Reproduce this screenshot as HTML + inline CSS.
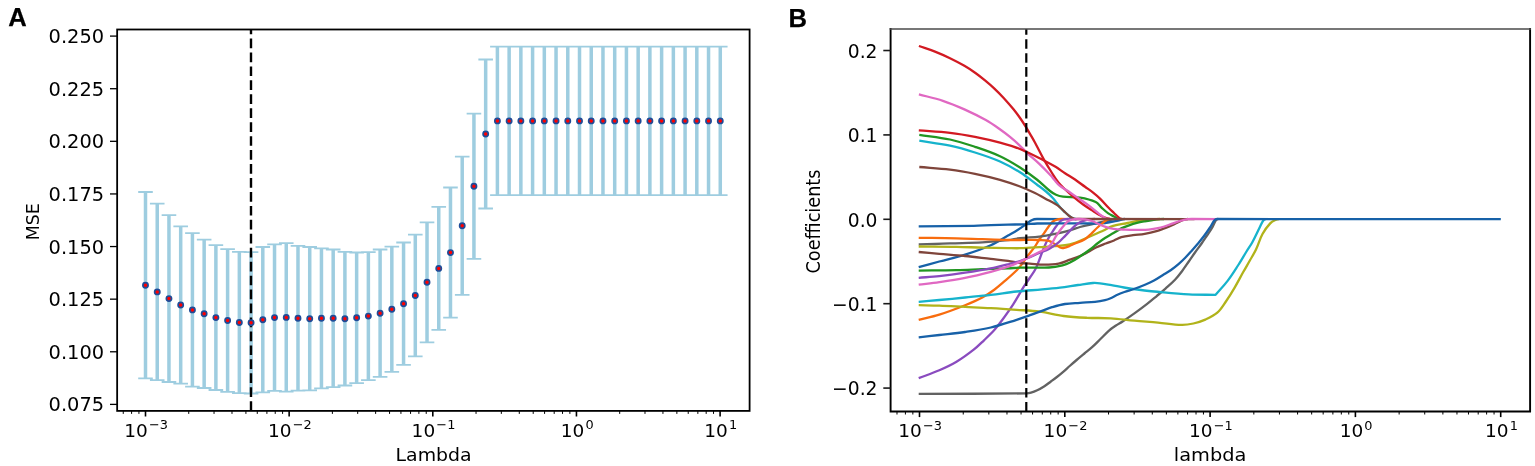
<!DOCTYPE html><html><head><meta charset="utf-8"><style>html,body{margin:0;padding:0;background:#fff;}svg{display:block;filter:blur(0.35px)}html,body{overflow:hidden;width:1535px;height:466px}</style></head><body>
<svg width="1535" height="466" viewBox="0 0 1535 466">
<rect width="100%" height="100%" fill="#fff"/>
<text x="8.2" y="26.1" font-family="Liberation Sans, Arial, sans-serif" font-weight="bold" font-size="25.6" stroke="#000" stroke-width="0.25">A</text>
<path d="M145.50 192.00V378.40M157.23 203.70V380.10M168.96 215.20V382.00M180.69 226.40V383.60M192.42 233.20V386.60M204.15 239.60V388.00M215.88 245.20V390.00M227.61 249.20V391.80M239.34 251.80V393.20M251.07 252.10V393.50M262.80 247.00V392.40M274.53 244.40V390.80M286.26 243.20V391.60M297.99 245.90V390.70M309.72 247.00V390.40M321.45 248.30V388.30M333.18 249.50V387.10M344.91 251.90V385.50M356.64 252.50V383.10M368.37 252.10V380.10M380.10 249.50V376.90M391.83 246.60V371.80M403.56 242.50V364.90M415.29 234.70V356.30M427.02 222.30V342.30M438.75 206.90V329.90M450.48 187.50V317.70M462.21 156.70V294.90M473.94 113.70V258.90M485.67 59.50V208.50M497.40 46.70V195.10M509.13 46.70V195.10M520.86 46.70V195.10M532.59 46.70V195.10M544.32 46.70V195.10M556.05 46.70V195.10M567.78 46.70V195.10M579.51 46.70V195.10M591.24 46.70V195.10M602.97 46.70V195.10M614.70 46.70V195.10M626.43 46.70V195.10M638.16 46.70V195.10M649.89 46.70V195.10M661.62 46.70V195.10M673.35 46.70V195.10M685.08 46.70V195.10M696.81 46.70V195.10M708.54 46.70V195.10M720.27 46.70V195.10" stroke="#9ecde0" stroke-width="3.5" fill="none"/>
<path d="M138.20 192.00H152.80M138.20 378.40H152.80M149.93 203.70H164.53M149.93 380.10H164.53M161.66 215.20H176.26M161.66 382.00H176.26M173.39 226.40H187.99M173.39 383.60H187.99M185.12 233.20H199.72M185.12 386.60H199.72M196.85 239.60H211.45M196.85 388.00H211.45M208.58 245.20H223.18M208.58 390.00H223.18M220.31 249.20H234.91M220.31 391.80H234.91M232.04 251.80H246.64M232.04 393.20H246.64M243.77 252.10H258.37M243.77 393.50H258.37M255.50 247.00H270.10M255.50 392.40H270.10M267.23 244.40H281.83M267.23 390.80H281.83M278.96 243.20H293.56M278.96 391.60H293.56M290.69 245.90H305.29M290.69 390.70H305.29M302.42 247.00H317.02M302.42 390.40H317.02M314.15 248.30H328.75M314.15 388.30H328.75M325.88 249.50H340.48M325.88 387.10H340.48M337.61 251.90H352.21M337.61 385.50H352.21M349.34 252.50H363.94M349.34 383.10H363.94M361.07 252.10H375.67M361.07 380.10H375.67M372.80 249.50H387.40M372.80 376.90H387.40M384.53 246.60H399.13M384.53 371.80H399.13M396.26 242.50H410.86M396.26 364.90H410.86M407.99 234.70H422.59M407.99 356.30H422.59M419.72 222.30H434.32M419.72 342.30H434.32M431.45 206.90H446.05M431.45 329.90H446.05M443.18 187.50H457.78M443.18 317.70H457.78M454.91 156.70H469.51M454.91 294.90H469.51M466.64 113.70H481.24M466.64 258.90H481.24M478.37 59.50H492.97M478.37 208.50H492.97M490.10 46.70H504.70M490.10 195.10H504.70M501.83 46.70H516.43M501.83 195.10H516.43M513.56 46.70H528.16M513.56 195.10H528.16M525.29 46.70H539.89M525.29 195.10H539.89M537.02 46.70H551.62M537.02 195.10H551.62M548.75 46.70H563.35M548.75 195.10H563.35M560.48 46.70H575.08M560.48 195.10H575.08M572.21 46.70H586.81M572.21 195.10H586.81M583.94 46.70H598.54M583.94 195.10H598.54M595.67 46.70H610.27M595.67 195.10H610.27M607.40 46.70H622.00M607.40 195.10H622.00M619.13 46.70H633.73M619.13 195.10H633.73M630.86 46.70H645.46M630.86 195.10H645.46M642.59 46.70H657.19M642.59 195.10H657.19M654.32 46.70H668.92M654.32 195.10H668.92M666.05 46.70H680.65M666.05 195.10H680.65M677.78 46.70H692.38M677.78 195.10H692.38M689.51 46.70H704.11M689.51 195.10H704.11M701.24 46.70H715.84M701.24 195.10H715.84M712.97 46.70H727.57M712.97 195.10H727.57" stroke="#9ecde0" stroke-width="1.8" fill="none"/>
<line x1="251.0" y1="410.9" x2="251.0" y2="29.5" stroke="#000" stroke-width="2.4" stroke-dasharray="9.7 4.25"/>
<circle cx="145.50" cy="285.20" r="2.6" fill="#ff0000" stroke="#1f4c98" stroke-width="1.7"/>
<circle cx="157.23" cy="291.90" r="2.6" fill="#ff0000" stroke="#1f4c98" stroke-width="1.7"/>
<circle cx="168.96" cy="298.60" r="2.6" fill="#ff0000" stroke="#1f4c98" stroke-width="1.7"/>
<circle cx="180.69" cy="305.00" r="2.6" fill="#ff0000" stroke="#1f4c98" stroke-width="1.7"/>
<circle cx="192.42" cy="309.90" r="2.6" fill="#ff0000" stroke="#1f4c98" stroke-width="1.7"/>
<circle cx="204.15" cy="313.80" r="2.6" fill="#ff0000" stroke="#1f4c98" stroke-width="1.7"/>
<circle cx="215.88" cy="317.60" r="2.6" fill="#ff0000" stroke="#1f4c98" stroke-width="1.7"/>
<circle cx="227.61" cy="320.50" r="2.6" fill="#ff0000" stroke="#1f4c98" stroke-width="1.7"/>
<circle cx="239.34" cy="322.50" r="2.6" fill="#ff0000" stroke="#1f4c98" stroke-width="1.7"/>
<circle cx="251.07" cy="322.80" r="2.6" fill="#ff0000" stroke="#1f4c98" stroke-width="1.7"/>
<circle cx="262.80" cy="319.70" r="2.6" fill="#ff0000" stroke="#1f4c98" stroke-width="1.7"/>
<circle cx="274.53" cy="317.60" r="2.6" fill="#ff0000" stroke="#1f4c98" stroke-width="1.7"/>
<circle cx="286.26" cy="317.40" r="2.6" fill="#ff0000" stroke="#1f4c98" stroke-width="1.7"/>
<circle cx="297.99" cy="318.30" r="2.6" fill="#ff0000" stroke="#1f4c98" stroke-width="1.7"/>
<circle cx="309.72" cy="318.70" r="2.6" fill="#ff0000" stroke="#1f4c98" stroke-width="1.7"/>
<circle cx="321.45" cy="318.30" r="2.6" fill="#ff0000" stroke="#1f4c98" stroke-width="1.7"/>
<circle cx="333.18" cy="318.30" r="2.6" fill="#ff0000" stroke="#1f4c98" stroke-width="1.7"/>
<circle cx="344.91" cy="318.70" r="2.6" fill="#ff0000" stroke="#1f4c98" stroke-width="1.7"/>
<circle cx="356.64" cy="317.80" r="2.6" fill="#ff0000" stroke="#1f4c98" stroke-width="1.7"/>
<circle cx="368.37" cy="316.10" r="2.6" fill="#ff0000" stroke="#1f4c98" stroke-width="1.7"/>
<circle cx="380.10" cy="313.20" r="2.6" fill="#ff0000" stroke="#1f4c98" stroke-width="1.7"/>
<circle cx="391.83" cy="309.20" r="2.6" fill="#ff0000" stroke="#1f4c98" stroke-width="1.7"/>
<circle cx="403.56" cy="303.70" r="2.6" fill="#ff0000" stroke="#1f4c98" stroke-width="1.7"/>
<circle cx="415.29" cy="295.50" r="2.6" fill="#ff0000" stroke="#1f4c98" stroke-width="1.7"/>
<circle cx="427.02" cy="282.30" r="2.6" fill="#ff0000" stroke="#1f4c98" stroke-width="1.7"/>
<circle cx="438.75" cy="268.40" r="2.6" fill="#ff0000" stroke="#1f4c98" stroke-width="1.7"/>
<circle cx="450.48" cy="252.60" r="2.6" fill="#ff0000" stroke="#1f4c98" stroke-width="1.7"/>
<circle cx="462.21" cy="225.80" r="2.6" fill="#ff0000" stroke="#1f4c98" stroke-width="1.7"/>
<circle cx="473.94" cy="186.30" r="2.6" fill="#ff0000" stroke="#1f4c98" stroke-width="1.7"/>
<circle cx="485.67" cy="134.00" r="2.6" fill="#ff0000" stroke="#1f4c98" stroke-width="1.7"/>
<circle cx="497.40" cy="120.90" r="2.6" fill="#ff0000" stroke="#1f4c98" stroke-width="1.7"/>
<circle cx="509.13" cy="120.90" r="2.6" fill="#ff0000" stroke="#1f4c98" stroke-width="1.7"/>
<circle cx="520.86" cy="120.90" r="2.6" fill="#ff0000" stroke="#1f4c98" stroke-width="1.7"/>
<circle cx="532.59" cy="120.90" r="2.6" fill="#ff0000" stroke="#1f4c98" stroke-width="1.7"/>
<circle cx="544.32" cy="120.90" r="2.6" fill="#ff0000" stroke="#1f4c98" stroke-width="1.7"/>
<circle cx="556.05" cy="120.90" r="2.6" fill="#ff0000" stroke="#1f4c98" stroke-width="1.7"/>
<circle cx="567.78" cy="120.90" r="2.6" fill="#ff0000" stroke="#1f4c98" stroke-width="1.7"/>
<circle cx="579.51" cy="120.90" r="2.6" fill="#ff0000" stroke="#1f4c98" stroke-width="1.7"/>
<circle cx="591.24" cy="120.90" r="2.6" fill="#ff0000" stroke="#1f4c98" stroke-width="1.7"/>
<circle cx="602.97" cy="120.90" r="2.6" fill="#ff0000" stroke="#1f4c98" stroke-width="1.7"/>
<circle cx="614.70" cy="120.90" r="2.6" fill="#ff0000" stroke="#1f4c98" stroke-width="1.7"/>
<circle cx="626.43" cy="120.90" r="2.6" fill="#ff0000" stroke="#1f4c98" stroke-width="1.7"/>
<circle cx="638.16" cy="120.90" r="2.6" fill="#ff0000" stroke="#1f4c98" stroke-width="1.7"/>
<circle cx="649.89" cy="120.90" r="2.6" fill="#ff0000" stroke="#1f4c98" stroke-width="1.7"/>
<circle cx="661.62" cy="120.90" r="2.6" fill="#ff0000" stroke="#1f4c98" stroke-width="1.7"/>
<circle cx="673.35" cy="120.90" r="2.6" fill="#ff0000" stroke="#1f4c98" stroke-width="1.7"/>
<circle cx="685.08" cy="120.90" r="2.6" fill="#ff0000" stroke="#1f4c98" stroke-width="1.7"/>
<circle cx="696.81" cy="120.90" r="2.6" fill="#ff0000" stroke="#1f4c98" stroke-width="1.7"/>
<circle cx="708.54" cy="120.90" r="2.6" fill="#ff0000" stroke="#1f4c98" stroke-width="1.7"/>
<circle cx="720.27" cy="120.90" r="2.6" fill="#ff0000" stroke="#1f4c98" stroke-width="1.7"/>
<rect x="117.15" y="29.5" width="632.45" height="381.4" fill="none" stroke="#000" stroke-width="1.8"/>
<line x1="110.0" y1="404.39" x2="117.15" y2="404.39" stroke="#000" stroke-width="1.3"/>
<text transform="translate(104.1 411.49)" font-family="DejaVu Sans, Liberation Sans, sans-serif" font-size="19.4" text-anchor="end">0.075</text>
<line x1="110.0" y1="351.78" x2="117.15" y2="351.78" stroke="#000" stroke-width="1.3"/>
<text transform="translate(104.1 358.88)" font-family="DejaVu Sans, Liberation Sans, sans-serif" font-size="19.4" text-anchor="end">0.100</text>
<line x1="110.0" y1="299.16" x2="117.15" y2="299.16" stroke="#000" stroke-width="1.3"/>
<text transform="translate(104.1 306.26)" font-family="DejaVu Sans, Liberation Sans, sans-serif" font-size="19.4" text-anchor="end">0.125</text>
<line x1="110.0" y1="246.55" x2="117.15" y2="246.55" stroke="#000" stroke-width="1.3"/>
<text transform="translate(104.1 253.65)" font-family="DejaVu Sans, Liberation Sans, sans-serif" font-size="19.4" text-anchor="end">0.150</text>
<line x1="110.0" y1="193.94" x2="117.15" y2="193.94" stroke="#000" stroke-width="1.3"/>
<text transform="translate(104.1 201.04)" font-family="DejaVu Sans, Liberation Sans, sans-serif" font-size="19.4" text-anchor="end">0.175</text>
<line x1="110.0" y1="141.32" x2="117.15" y2="141.32" stroke="#000" stroke-width="1.3"/>
<text transform="translate(104.1 148.42)" font-family="DejaVu Sans, Liberation Sans, sans-serif" font-size="19.4" text-anchor="end">0.200</text>
<line x1="110.0" y1="88.71" x2="117.15" y2="88.71" stroke="#000" stroke-width="1.3"/>
<text transform="translate(104.1 95.81)" font-family="DejaVu Sans, Liberation Sans, sans-serif" font-size="19.4" text-anchor="end">0.225</text>
<line x1="110.0" y1="36.10" x2="117.15" y2="36.10" stroke="#000" stroke-width="1.3"/>
<text transform="translate(104.1 43.20)" font-family="DejaVu Sans, Liberation Sans, sans-serif" font-size="19.4" text-anchor="end">0.250</text>
<line x1="123.25" y1="410.9" x2="123.25" y2="413.9" stroke="#000" stroke-width="1.0"/>
<line x1="131.58" y1="410.9" x2="131.58" y2="413.9" stroke="#000" stroke-width="1.0"/>
<line x1="138.93" y1="410.9" x2="138.93" y2="413.9" stroke="#000" stroke-width="1.0"/>
<line x1="145.50" y1="410.9" x2="145.50" y2="416.5" stroke="#000" stroke-width="1.6"/>
<line x1="188.74" y1="410.9" x2="188.74" y2="413.9" stroke="#000" stroke-width="1.0"/>
<line x1="214.04" y1="410.9" x2="214.04" y2="413.9" stroke="#000" stroke-width="1.0"/>
<line x1="231.99" y1="410.9" x2="231.99" y2="413.9" stroke="#000" stroke-width="1.0"/>
<line x1="245.91" y1="410.9" x2="245.91" y2="413.9" stroke="#000" stroke-width="1.0"/>
<line x1="257.28" y1="410.9" x2="257.28" y2="413.9" stroke="#000" stroke-width="1.0"/>
<line x1="266.90" y1="410.9" x2="266.90" y2="413.9" stroke="#000" stroke-width="1.0"/>
<line x1="275.23" y1="410.9" x2="275.23" y2="413.9" stroke="#000" stroke-width="1.0"/>
<line x1="282.58" y1="410.9" x2="282.58" y2="413.9" stroke="#000" stroke-width="1.0"/>
<line x1="289.15" y1="410.9" x2="289.15" y2="416.5" stroke="#000" stroke-width="1.6"/>
<line x1="332.39" y1="410.9" x2="332.39" y2="413.9" stroke="#000" stroke-width="1.0"/>
<line x1="357.69" y1="410.9" x2="357.69" y2="413.9" stroke="#000" stroke-width="1.0"/>
<line x1="375.64" y1="410.9" x2="375.64" y2="413.9" stroke="#000" stroke-width="1.0"/>
<line x1="389.56" y1="410.9" x2="389.56" y2="413.9" stroke="#000" stroke-width="1.0"/>
<line x1="400.93" y1="410.9" x2="400.93" y2="413.9" stroke="#000" stroke-width="1.0"/>
<line x1="410.55" y1="410.9" x2="410.55" y2="413.9" stroke="#000" stroke-width="1.0"/>
<line x1="418.88" y1="410.9" x2="418.88" y2="413.9" stroke="#000" stroke-width="1.0"/>
<line x1="426.23" y1="410.9" x2="426.23" y2="413.9" stroke="#000" stroke-width="1.0"/>
<line x1="432.80" y1="410.9" x2="432.80" y2="416.5" stroke="#000" stroke-width="1.6"/>
<line x1="476.04" y1="410.9" x2="476.04" y2="413.9" stroke="#000" stroke-width="1.0"/>
<line x1="501.34" y1="410.9" x2="501.34" y2="413.9" stroke="#000" stroke-width="1.0"/>
<line x1="519.29" y1="410.9" x2="519.29" y2="413.9" stroke="#000" stroke-width="1.0"/>
<line x1="533.21" y1="410.9" x2="533.21" y2="413.9" stroke="#000" stroke-width="1.0"/>
<line x1="544.58" y1="410.9" x2="544.58" y2="413.9" stroke="#000" stroke-width="1.0"/>
<line x1="554.20" y1="410.9" x2="554.20" y2="413.9" stroke="#000" stroke-width="1.0"/>
<line x1="562.53" y1="410.9" x2="562.53" y2="413.9" stroke="#000" stroke-width="1.0"/>
<line x1="569.88" y1="410.9" x2="569.88" y2="413.9" stroke="#000" stroke-width="1.0"/>
<line x1="576.45" y1="410.9" x2="576.45" y2="416.5" stroke="#000" stroke-width="1.6"/>
<line x1="619.69" y1="410.9" x2="619.69" y2="413.9" stroke="#000" stroke-width="1.0"/>
<line x1="644.99" y1="410.9" x2="644.99" y2="413.9" stroke="#000" stroke-width="1.0"/>
<line x1="662.94" y1="410.9" x2="662.94" y2="413.9" stroke="#000" stroke-width="1.0"/>
<line x1="676.86" y1="410.9" x2="676.86" y2="413.9" stroke="#000" stroke-width="1.0"/>
<line x1="688.23" y1="410.9" x2="688.23" y2="413.9" stroke="#000" stroke-width="1.0"/>
<line x1="697.85" y1="410.9" x2="697.85" y2="413.9" stroke="#000" stroke-width="1.0"/>
<line x1="706.18" y1="410.9" x2="706.18" y2="413.9" stroke="#000" stroke-width="1.0"/>
<line x1="713.53" y1="410.9" x2="713.53" y2="413.9" stroke="#000" stroke-width="1.0"/>
<line x1="720.10" y1="410.9" x2="720.10" y2="416.5" stroke="#000" stroke-width="1.6"/>
<text x="146.20" y="436.7" font-family="DejaVu Sans, Liberation Sans, sans-serif" font-size="18.5" text-anchor="middle">10<tspan font-size="12.9" dx="1.2" dy="-7.5">−3</tspan></text>
<text x="289.85" y="436.7" font-family="DejaVu Sans, Liberation Sans, sans-serif" font-size="18.5" text-anchor="middle">10<tspan font-size="12.9" dx="1.2" dy="-7.5">−2</tspan></text>
<text x="433.50" y="436.7" font-family="DejaVu Sans, Liberation Sans, sans-serif" font-size="18.5" text-anchor="middle">10<tspan font-size="12.9" dx="1.2" dy="-7.5">−1</tspan></text>
<text x="577.15" y="436.7" font-family="DejaVu Sans, Liberation Sans, sans-serif" font-size="18.5" text-anchor="middle">10<tspan font-size="12.9" dx="1.2" dy="-7.5">0</tspan></text>
<text x="720.80" y="436.7" font-family="DejaVu Sans, Liberation Sans, sans-serif" font-size="18.5" text-anchor="middle">10<tspan font-size="12.9" dx="1.2" dy="-7.5">1</tspan></text>
<text transform="translate(433.6 461.3) scale(1.08 1)" font-family="DejaVu Sans, Liberation Sans, sans-serif" font-size="17.5" text-anchor="middle">Lambda</text>
<text transform="translate(39.3 221.7) scale(1.04 1) rotate(-90)" font-family="DejaVu Sans, Liberation Sans, sans-serif" font-size="17.4" text-anchor="middle">MSE</text>
<text x="788.6" y="26.5" font-family="Liberation Sans, Arial, sans-serif" font-weight="bold" font-size="25.6" stroke="#000" stroke-width="0.25">B</text>
<path d="M918.70 267.20C926.12 265.15 931.87 263.52 939.30 261.50C948.58 258.98 955.94 257.50 965.10 254.60C974.48 251.63 981.83 249.19 990.80 245.20C997.27 242.32 1001.82 239.01 1008.00 235.50C1011.32 233.61 1013.96 232.22 1017.20 230.20C1020.26 228.30 1022.54 226.66 1025.50 224.60C1027.72 223.06 1029.21 221.36 1031.60 220.20C1033.35 219.35 1035.01 219.00 1037.00 219.00L1062.50 219.2" stroke="#1761a8" stroke-width="2.3" fill="none" stroke-linejoin="round" stroke-linecap="butt"/>
<path d="M918.70 319.80C926.12 317.93 932.01 316.89 939.30 314.60C948.72 311.64 955.92 308.85 965.10 305.20C971.40 302.69 976.33 300.67 982.30 297.50C986.84 295.09 990.15 292.74 994.30 289.70C998.18 286.87 1000.97 284.35 1004.60 281.20C1009.14 277.26 1012.73 274.22 1017.00 270.00C1019.00 268.03 1020.30 266.24 1022.00 264.00C1024.15 261.16 1025.57 258.76 1027.70 255.90C1030.07 252.71 1032.21 250.44 1034.50 247.20C1036.38 244.54 1037.45 242.19 1039.30 239.50C1040.91 237.15 1042.44 235.51 1044.10 233.20C1045.93 230.65 1047.11 228.49 1049.00 226.00C1050.31 224.28 1051.34 222.83 1053.00 221.50C1054.22 220.52 1055.49 220.07 1057.00 219.60C1058.37 219.17 1059.54 219.00 1061.00 219.00L1069.50 219.2" stroke="#f86c0e" stroke-width="2.3" fill="none" stroke-linejoin="round" stroke-linecap="butt"/>
<path d="M919.30 134.80C930.35 136.49 939.09 137.15 950.00 139.50C959.15 141.47 966.11 143.83 975.00 146.80C984.11 149.84 991.29 152.19 1000.00 156.20C1007.49 159.65 1013.02 163.08 1020.00 167.50C1026.27 171.47 1030.96 174.92 1036.80 179.50C1041.76 183.38 1045.08 187.08 1050.00 191.00C1051.99 192.59 1053.68 193.78 1056.00 194.80C1058.36 195.84 1060.42 196.40 1063.00 196.70C1069.06 197.41 1073.99 196.63 1080.00 197.60C1085.76 198.53 1090.52 199.59 1095.70 202.00C1098.26 203.19 1099.35 205.65 1101.50 207.60C1103.88 209.76 1105.69 211.55 1108.30 213.40C1110.22 214.76 1111.99 215.42 1114.10 216.50C1115.85 217.40 1117.04 218.89 1119.00 218.90" stroke="#219621" stroke-width="2.3" fill="none" stroke-linejoin="round" stroke-linecap="butt"/>
<path d="M918.90 46.00C924.70 48.02 929.29 49.36 935.00 51.60C940.49 53.75 944.69 55.64 950.00 58.20C955.27 60.75 959.34 62.86 964.40 65.80C968.63 68.26 971.81 70.37 975.80 73.20C979.23 75.63 981.76 77.72 985.00 80.40C988.46 83.26 991.13 85.52 994.40 88.60C997.94 91.93 1000.61 94.63 1003.90 98.20C1007.41 102.01 1010.03 105.08 1013.30 109.10C1015.97 112.39 1017.96 115.03 1020.40 118.50C1022.64 121.69 1024.24 124.28 1026.30 127.60C1027.84 130.08 1028.94 132.07 1030.40 134.60C1032.00 137.36 1033.28 139.49 1034.80 142.30C1038.11 148.42 1040.40 153.33 1043.80 159.40C1046.49 164.20 1048.76 167.85 1051.70 172.50C1054.01 176.16 1055.74 179.10 1058.40 182.50C1060.24 184.86 1062.03 186.43 1064.20 188.50C1067.57 191.72 1070.24 194.19 1073.80 197.20C1077.19 200.06 1079.90 202.22 1083.50 204.80C1086.84 207.19 1089.62 208.81 1093.10 211.00C1095.56 212.55 1097.45 213.82 1100.00 215.20C1102.23 216.41 1104.03 217.30 1106.40 218.20C1107.63 218.67 1108.67 219.00 1110.00 219.00" stroke="#d21a22" stroke-width="2.3" fill="none" stroke-linejoin="round" stroke-linecap="butt"/>
<path d="M918.70 378.10C926.12 375.29 932.03 373.44 939.30 370.30C945.63 367.57 950.59 365.34 956.50 361.80C962.98 357.92 967.75 354.35 973.70 349.70C977.65 346.61 980.37 343.77 984.00 340.30C987.79 336.68 990.78 333.87 994.30 330.00C996.93 327.11 998.78 324.66 1001.10 321.50C1005.58 315.40 1009.06 310.63 1013.20 304.30C1017.13 298.29 1019.68 293.29 1023.50 287.20C1025.73 283.64 1027.69 281.01 1030.00 277.50C1032.01 274.46 1033.84 272.23 1035.50 269.00C1037.44 265.21 1038.43 261.98 1040.00 258.00C1041.49 254.24 1042.43 251.23 1044.00 247.50C1045.31 244.39 1046.41 241.98 1048.00 239.00C1049.29 236.58 1050.52 234.81 1052.00 232.50C1053.40 230.31 1054.47 228.60 1056.00 226.50C1057.35 224.64 1058.31 223.00 1060.00 221.50C1061.19 220.44 1062.48 219.88 1064.00 219.40C1065.36 218.98 1066.55 219.00 1068.00 219.00L1076.50 219.2" stroke="#8a4bbf" stroke-width="2.3" fill="none" stroke-linejoin="round" stroke-linecap="butt"/>
<path d="M918.70 252.00C926.12 252.65 931.88 253.16 939.30 253.80C948.59 254.60 955.82 255.08 965.10 256.00C974.36 256.92 981.55 257.86 990.80 258.90C996.99 259.59 1001.83 259.93 1008.00 260.80C1012.35 261.41 1015.65 262.44 1020.00 263.00C1023.46 263.45 1026.21 263.37 1029.70 263.60C1034.89 263.94 1038.92 264.60 1044.10 264.60C1049.32 264.60 1053.50 264.56 1058.60 263.60C1062.83 262.80 1065.91 261.15 1070.00 259.70C1073.62 258.42 1076.48 257.51 1080.00 256.00C1082.96 254.74 1085.16 253.51 1088.00 252.00C1090.92 250.45 1093.02 248.92 1096.00 247.50C1099.43 245.86 1102.25 244.88 1105.80 243.50C1108.73 242.36 1111.09 241.68 1114.00 240.50C1116.67 239.41 1118.54 237.97 1121.30 237.20C1125.38 236.06 1128.77 235.81 1133.00 235.20C1137.20 234.59 1140.52 234.51 1144.70 233.80C1148.98 233.07 1152.31 232.35 1156.50 231.20C1159.37 230.41 1161.51 229.46 1164.30 228.40C1167.13 227.33 1169.35 226.54 1172.10 225.30C1174.96 224.02 1177.04 222.69 1179.90 221.40C1181.68 220.60 1183.13 220.05 1185.00 219.50C1186.05 219.19 1186.91 219.00 1188.00 219.00" stroke="#7f453b" stroke-width="2.3" fill="none" stroke-linejoin="round" stroke-linecap="butt"/>
<path d="M918.90 94.40C927.54 96.70 934.42 98.01 942.90 100.80C950.80 103.41 956.80 105.98 964.40 109.40C972.25 112.93 978.31 115.87 985.80 120.10C991.45 123.29 995.56 126.30 1000.90 130.00C1004.28 132.34 1006.82 134.30 1010.00 136.90C1013.34 139.63 1015.86 141.85 1019.00 144.80C1022.34 147.93 1024.66 150.66 1028.00 153.80C1031.97 157.54 1035.35 160.14 1039.30 163.90C1043.45 167.85 1046.57 171.04 1050.50 175.20C1052.04 176.83 1053.02 178.30 1054.50 180.00C1056.19 181.94 1057.32 183.69 1059.30 185.30C1062.54 187.93 1065.52 189.44 1069.00 191.80C1072.47 194.16 1075.15 196.02 1078.60 198.40C1082.09 200.81 1084.90 202.56 1088.30 205.10C1091.89 207.78 1094.49 210.11 1098.00 212.90C1099.43 214.03 1100.51 214.96 1102.00 216.00C1103.39 216.97 1104.45 217.92 1106.00 218.50C1107.33 219.00 1108.55 219.00 1110.00 219.00" stroke="#e068c2" stroke-width="2.3" fill="none" stroke-linejoin="round" stroke-linecap="butt"/>
<path d="M918.70 244.40C924.57 244.26 929.13 244.19 935.00 244.00C940.40 243.83 944.60 243.58 950.00 243.40C961.63 243.01 970.69 243.04 982.30 242.40C991.57 241.89 998.78 241.23 1008.00 240.20C1012.35 239.72 1015.65 238.70 1020.00 238.20C1026.92 237.40 1032.38 237.42 1039.30 236.60C1044.55 235.98 1048.62 235.26 1053.80 234.20C1059.67 232.99 1064.22 231.89 1070.00 230.30C1073.65 229.30 1076.35 228.00 1080.00 227.00C1085.13 225.59 1089.21 224.79 1094.40 223.60C1099.29 222.48 1103.11 221.69 1108.00 220.60C1110.52 220.04 1112.42 219.01 1115.00 219.00" stroke="#626262" stroke-width="2.3" fill="none" stroke-linejoin="round" stroke-linecap="butt"/>
<path d="M918.70 246.50C932.31 246.61 942.89 246.56 956.50 246.80C965.79 246.96 973.01 247.37 982.30 247.60C991.55 247.83 998.75 247.95 1008.00 248.10C1012.32 248.17 1015.68 248.32 1020.00 248.20C1026.95 248.00 1032.36 247.61 1039.30 247.20C1044.52 246.89 1048.59 246.69 1053.80 246.20C1059.64 245.65 1064.34 245.70 1070.00 244.30C1075.86 242.85 1080.18 240.62 1085.80 238.30C1092.06 235.72 1096.84 233.50 1103.00 230.70C1106.67 229.04 1109.29 227.09 1113.10 225.90C1118.14 224.32 1122.38 224.03 1127.60 223.00C1132.06 222.12 1135.50 221.20 1140.00 220.60C1145.18 219.91 1149.28 219.82 1154.50 219.40C1156.48 219.24 1158.01 219.00 1160.00 219.00" stroke="#b1b31a" stroke-width="2.3" fill="none" stroke-linejoin="round" stroke-linecap="butt"/>
<path d="M919.30 140.70C930.35 142.50 939.06 143.38 950.00 145.70C959.11 147.63 966.11 149.69 975.00 152.50C984.11 155.38 991.27 157.66 1000.00 161.50C1007.47 164.79 1013.08 167.97 1020.00 172.30C1026.32 176.25 1030.79 180.06 1036.80 184.50C1040.15 186.97 1042.82 188.82 1046.00 191.50C1048.58 193.68 1050.50 195.53 1052.80 198.00C1054.46 199.78 1055.51 201.38 1057.00 203.30C1058.10 204.72 1058.80 205.96 1060.00 207.30C1061.54 209.02 1062.91 210.21 1064.60 211.80C1065.97 213.09 1067.03 214.12 1068.50 215.30C1069.80 216.35 1070.85 217.18 1072.30 218.00C1073.19 218.51 1073.96 219.00 1075.00 219.00L1076.50 219.2" stroke="#16b3cc" stroke-width="2.3" fill="none" stroke-linejoin="round" stroke-linecap="butt"/>
<path d="M918.70 226.30C938.50 226.12 953.90 226.13 973.70 225.80C979.86 225.70 984.64 225.32 990.80 225.10C996.99 224.88 1001.81 224.74 1008.00 224.60C1014.12 224.46 1018.89 224.53 1025.00 224.30C1029.40 224.13 1032.80 223.59 1037.20 223.50C1049.54 223.23 1059.15 223.30 1071.50 223.30C1080.79 223.30 1088.02 223.58 1097.30 223.50C1100.08 223.48 1102.25 223.38 1105.00 223.00C1109.71 222.34 1113.33 221.53 1118.00 220.60C1120.53 220.09 1122.42 219.01 1125.00 219.00" stroke="#1761a8" stroke-width="2.3" fill="none" stroke-linejoin="round" stroke-linecap="butt"/>
<path d="M918.70 237.80C932.31 237.98 942.89 238.00 956.50 238.30C965.79 238.50 973.01 238.89 982.30 239.20C991.55 239.51 998.75 239.80 1008.00 240.00C1012.32 240.09 1015.68 240.00 1020.00 240.00C1026.95 240.00 1032.36 239.78 1039.30 240.00C1042.80 240.11 1045.72 239.90 1049.00 240.90C1051.99 241.81 1053.92 243.72 1056.70 245.30C1058.42 246.28 1059.67 247.61 1061.50 248.00C1063.02 248.33 1064.42 247.71 1066.00 247.30C1067.48 246.92 1068.58 246.39 1070.00 245.80C1071.46 245.20 1072.55 244.63 1074.00 244.00C1077.77 242.36 1080.99 241.56 1084.50 239.50C1087.11 237.96 1088.75 236.08 1091.00 234.00C1093.43 231.76 1095.06 229.73 1097.50 227.50C1100.10 225.12 1102.18 223.29 1105.00 221.20C1106.32 220.23 1107.36 219.01 1109.00 219.00" stroke="#f86c0e" stroke-width="2.3" fill="none" stroke-linejoin="round" stroke-linecap="butt"/>
<path d="M918.70 270.60C932.31 270.42 942.89 270.40 956.50 270.10C965.79 269.90 973.01 269.51 982.30 269.20C991.55 268.89 998.75 268.79 1008.00 268.40C1012.33 268.22 1015.67 267.69 1020.00 267.60C1030.43 267.37 1038.60 268.04 1049.00 267.50C1053.90 267.25 1057.73 266.51 1062.50 265.40C1065.29 264.75 1067.45 263.92 1070.00 262.60C1074.00 260.53 1076.92 258.48 1080.70 256.00C1084.12 253.76 1086.74 251.95 1090.00 249.50C1092.96 247.27 1095.06 245.26 1098.00 243.00C1100.46 241.12 1102.39 239.67 1105.00 238.00C1107.97 236.10 1110.46 234.89 1113.50 233.10C1116.32 231.44 1118.38 229.86 1121.30 228.40C1123.99 227.05 1126.25 226.30 1129.10 225.30C1131.87 224.32 1134.06 223.63 1136.90 222.90C1139.67 222.19 1141.88 221.81 1144.70 221.30C1147.50 220.80 1149.69 220.49 1152.50 220.10C1155.19 219.73 1157.29 219.46 1160.00 219.20C1161.43 219.06 1162.56 219.00 1164.00 219.00" stroke="#219621" stroke-width="2.3" fill="none" stroke-linejoin="round" stroke-linecap="butt"/>
<path d="M918.80 130.40C930.03 131.26 938.82 131.53 950.00 132.80C959.05 133.83 966.06 135.05 975.00 136.80C984.06 138.58 991.09 140.18 1000.00 142.60C1007.29 144.58 1013.02 146.15 1020.00 149.00C1029.00 152.67 1035.70 156.33 1044.40 160.70C1048.66 162.84 1051.93 164.63 1056.00 167.10C1059.34 169.13 1061.72 171.06 1065.00 173.20C1068.56 175.53 1071.48 177.11 1075.00 179.50C1078.68 182.00 1081.39 184.19 1085.00 186.80C1087.91 188.90 1090.28 190.39 1093.10 192.60C1095.68 194.63 1097.65 196.30 1100.00 198.60C1103.23 201.77 1105.44 204.55 1108.60 207.80C1110.48 209.73 1112.04 211.14 1114.00 213.00C1115.75 214.67 1116.99 216.17 1118.90 217.60C1119.87 218.33 1120.78 218.99 1122.00 219.00" stroke="#d21a22" stroke-width="2.3" fill="none" stroke-linejoin="round" stroke-linecap="butt"/>
<path d="M918.70 277.80C926.12 277.19 931.91 276.91 939.30 276.10C948.61 275.08 955.84 274.09 965.10 272.70C974.38 271.31 981.60 270.20 990.80 268.40C997.04 267.18 1001.83 265.86 1008.00 264.30C1012.34 263.20 1015.74 262.37 1020.00 261.00C1023.66 259.82 1026.44 258.67 1030.00 257.20C1033.39 255.79 1035.92 254.44 1039.30 253.00C1042.76 251.52 1045.72 250.90 1049.00 249.10C1052.67 247.08 1055.36 245.07 1058.60 242.40C1061.26 240.21 1062.97 238.07 1065.40 235.60C1067.08 233.89 1068.35 232.53 1070.00 230.80C1071.44 229.29 1072.42 227.95 1074.00 226.60C1076.02 224.89 1077.68 223.55 1080.00 222.30C1082.00 221.21 1083.78 220.67 1086.00 220.10C1088.10 219.56 1089.83 219.46 1092.00 219.20C1093.07 219.07 1093.92 219.00 1095.00 219.00" stroke="#8a4bbf" stroke-width="2.3" fill="none" stroke-linejoin="round" stroke-linecap="butt"/>
<path d="M919.30 167.00C930.35 167.94 939.00 168.26 950.00 169.60C959.05 170.71 966.06 171.98 975.00 173.80C984.06 175.65 991.10 177.29 1000.00 179.80C1007.30 181.86 1012.90 183.82 1020.00 186.50C1025.50 188.57 1029.70 190.46 1035.00 193.00C1038.70 194.78 1041.38 196.55 1045.00 198.50C1048.58 200.44 1051.49 201.74 1055.00 203.80C1056.89 204.91 1058.32 205.90 1060.00 207.30C1061.77 208.78 1062.91 210.21 1064.60 211.80C1065.97 213.09 1067.03 214.12 1068.50 215.30C1069.80 216.35 1070.85 217.18 1072.30 218.00C1073.19 218.51 1073.96 219.00 1075.00 219.00L1194.50 219.2" stroke="#7f453b" stroke-width="2.3" fill="none" stroke-linejoin="round" stroke-linecap="butt"/>
<path d="M918.70 284.70C926.12 283.76 931.91 283.20 939.30 282.10C948.61 280.72 955.87 279.65 965.10 277.80C974.41 275.94 981.61 274.18 990.80 271.80C997.05 270.18 1001.90 268.81 1008.00 266.70C1012.42 265.17 1015.74 263.63 1020.00 261.70C1023.55 260.10 1026.22 258.65 1029.70 256.90C1033.17 255.16 1035.83 253.74 1039.30 252.00C1042.06 250.61 1044.49 249.93 1047.00 248.20C1049.03 246.80 1050.42 245.28 1051.90 243.30C1053.55 241.10 1054.21 238.94 1055.70 236.60C1057.31 234.08 1058.70 232.20 1060.50 229.80C1061.84 228.02 1062.93 226.67 1064.40 225.00C1065.63 223.61 1066.51 222.36 1068.00 221.30C1069.25 220.41 1070.49 219.95 1072.00 219.60C1074.09 219.12 1075.84 219.05 1078.00 219.00C1080.52 218.94 1082.51 218.94 1085.00 219.30C1087.55 219.66 1089.56 220.16 1092.00 221.00C1094.17 221.75 1095.69 222.78 1097.80 223.70C1100.58 224.91 1102.72 225.97 1105.60 226.90C1108.37 227.80 1110.61 228.40 1113.50 228.80C1117.67 229.37 1120.98 229.42 1125.20 229.60C1129.44 229.78 1132.75 229.80 1137.00 229.80C1141.18 229.80 1144.44 229.90 1148.60 229.60C1151.46 229.39 1153.68 228.96 1156.50 228.40C1159.33 227.84 1161.54 227.33 1164.30 226.50C1167.15 225.64 1169.29 224.69 1172.10 223.70C1174.90 222.71 1177.05 221.82 1179.90 221.00C1182.66 220.20 1184.86 219.63 1187.70 219.20C1189.58 218.91 1191.09 219.00 1193.00 219.00L1218.50 219.2" stroke="#e068c2" stroke-width="2.3" fill="none" stroke-linejoin="round" stroke-linecap="butt"/>
<path d="M918.70 393.90C957.51 393.72 987.71 393.81 1026.50 393.40C1028.14 393.38 1029.43 393.15 1031.00 392.70C1033.29 392.04 1035.04 391.33 1037.20 390.30C1039.72 389.10 1041.64 388.01 1044.00 386.50C1046.58 384.84 1048.43 383.32 1050.90 381.50C1053.07 379.90 1054.77 378.66 1056.90 377.00C1059.09 375.28 1060.79 373.92 1062.90 372.10C1065.39 369.96 1067.24 368.18 1069.70 366.00C1072.17 363.82 1074.09 362.13 1076.60 360.00C1079.38 357.63 1081.58 355.83 1084.40 353.50C1087.16 351.22 1089.44 349.60 1092.10 347.20C1095.31 344.30 1097.61 341.83 1100.70 338.80C1103.80 335.75 1106.02 333.15 1109.30 330.30C1111.53 328.36 1113.53 327.14 1116.00 325.50C1118.32 323.97 1120.28 323.03 1122.60 321.50C1126.90 318.67 1130.21 316.40 1134.40 313.40C1138.81 310.24 1142.22 307.73 1146.50 304.40C1150.35 301.40 1153.24 298.92 1157.00 295.80C1160.08 293.24 1162.50 291.26 1165.50 288.60C1168.98 285.50 1171.80 283.17 1175.00 279.80C1177.74 276.91 1179.60 274.39 1182.00 271.20C1184.57 267.80 1186.37 265.00 1188.80 261.50C1191.05 258.27 1192.72 255.71 1195.00 252.50C1197.33 249.23 1199.28 246.78 1201.60 243.50C1203.60 240.66 1205.06 238.39 1207.00 235.50C1208.81 232.81 1210.38 230.80 1212.00 228.00C1213.55 225.33 1214.14 222.80 1215.80 220.30C1216.30 219.56 1217.08 219.00 1218.00 219.00L1218.50 219.2" stroke="#626262" stroke-width="2.3" fill="none" stroke-linejoin="round" stroke-linecap="butt"/>
<path d="M918.70 305.20C926.12 305.38 931.89 305.43 939.30 305.70C948.59 306.04 955.81 306.47 965.10 306.90C974.35 307.33 981.55 307.58 990.80 308.10C1000.09 308.62 1007.32 309.12 1016.60 309.80C1025.03 310.42 1031.63 310.60 1040.00 311.70C1048.55 312.83 1055.05 314.89 1063.60 316.00C1072.04 317.09 1078.69 317.39 1087.20 317.80C1095.68 318.21 1102.32 317.78 1110.80 318.30C1119.32 318.82 1125.90 319.93 1134.40 320.70C1142.89 321.47 1149.51 321.84 1158.00 322.60C1166.50 323.36 1173.11 324.68 1181.60 324.90C1185.85 325.01 1189.25 324.43 1193.40 323.50C1197.78 322.52 1201.21 321.45 1205.30 319.60C1209.82 317.56 1213.63 315.93 1217.30 312.70C1221.04 309.41 1223.01 305.68 1225.90 301.50C1229.21 296.71 1231.55 292.82 1234.50 287.80C1237.74 282.30 1239.97 277.86 1243.10 272.30C1245.55 267.96 1247.55 264.64 1250.00 260.30C1252.19 256.43 1254.09 253.51 1256.00 249.50C1258.59 244.04 1259.63 239.28 1262.50 234.00C1264.74 229.88 1267.05 226.82 1270.20 223.40C1271.69 221.78 1273.41 220.95 1275.40 220.00C1276.58 219.44 1277.67 219.20 1279.00 219.20" stroke="#b1b31a" stroke-width="2.3" fill="none" stroke-linejoin="round" stroke-linecap="butt"/>
<path d="M918.70 301.80C926.12 301.15 931.89 300.69 939.30 300.00C948.59 299.14 955.81 298.42 965.10 297.50C974.35 296.58 981.56 295.98 990.80 294.90C1000.10 293.82 1007.29 292.49 1016.60 291.50C1025.83 290.51 1033.05 290.23 1042.30 289.40C1048.68 288.83 1053.64 288.38 1060.00 287.60C1066.50 286.80 1071.52 285.90 1078.00 285.00C1083.40 284.25 1087.59 283.42 1093.00 283.00C1095.51 282.81 1097.50 283.00 1100.00 283.30C1104.16 283.79 1107.37 284.48 1111.50 285.20C1116.01 285.99 1119.49 286.75 1124.00 287.50C1128.78 288.30 1132.50 288.90 1137.30 289.50C1146.54 290.66 1153.73 291.52 1163.00 292.40C1172.27 293.28 1179.50 293.98 1188.80 294.40C1198.43 294.84 1205.95 294.66 1215.60 294.80C1219.92 289.80 1223.59 286.14 1227.60 280.90C1231.66 275.59 1234.38 271.13 1238.00 265.50C1241.19 260.54 1243.40 256.52 1246.50 251.50C1248.51 248.24 1250.36 245.86 1252.20 242.50C1255.19 237.04 1257.08 232.56 1259.90 227.00C1261.15 224.53 1261.87 222.28 1263.50 220.20C1264.07 219.47 1265.03 219.20 1266.00 219.20" stroke="#16b3cc" stroke-width="2.3" fill="none" stroke-linejoin="round" stroke-linecap="butt"/>
<path d="M918.70 337.30C926.12 336.47 931.89 335.85 939.30 335.00C948.59 333.94 955.85 333.35 965.10 332.00C974.39 330.65 981.68 329.66 990.80 327.50C1000.22 325.27 1007.35 322.70 1016.60 319.80C1021.47 318.27 1025.19 316.90 1030.00 315.20C1034.34 313.66 1037.68 312.37 1042.00 310.80C1045.60 309.49 1048.34 308.28 1052.00 307.20C1056.62 305.84 1060.25 304.75 1065.00 304.00C1070.33 303.16 1074.60 303.20 1080.00 302.80C1085.40 302.40 1089.62 302.36 1095.00 301.80C1098.62 301.42 1101.45 300.98 1105.00 300.20C1106.85 299.79 1108.26 299.26 1110.00 298.50C1112.94 297.21 1115.07 295.82 1118.00 294.50C1120.25 293.48 1122.06 292.81 1124.40 292.00C1127.79 290.83 1130.52 290.20 1133.90 289.00C1137.94 287.57 1141.06 286.37 1145.00 284.70C1148.29 283.31 1150.86 282.19 1154.00 280.50C1157.34 278.70 1159.77 277.00 1163.00 275.00C1165.89 273.22 1168.23 271.95 1171.00 270.00C1173.81 268.03 1175.89 266.33 1178.50 264.10C1180.93 262.01 1182.74 260.28 1185.00 258.00C1187.35 255.63 1189.07 253.68 1191.30 251.20C1193.75 248.46 1195.64 246.32 1198.00 243.50C1200.28 240.77 1202.07 238.65 1204.20 235.80C1206.39 232.89 1207.98 230.54 1210.00 227.50C1211.69 224.96 1212.61 222.60 1214.50 220.30C1215.13 219.54 1215.99 219.00 1217.00 219.00L1500.80 219.2" stroke="#1761a8" stroke-width="2.3" fill="none" stroke-linejoin="round" stroke-linecap="butt"/>
<line x1="1026.3" y1="411.5" x2="1026.3" y2="29.0" stroke="#000" stroke-width="2.2" stroke-dasharray="9.6 4.35"/>
<path d="M890.6 29.0V411.5H1530.1V29.0" fill="none" stroke="#000" stroke-width="1.9" stroke-linecap="square"/>
<line x1="889.7" y1="29.0" x2="1531.0" y2="29.0" stroke="#4a4a4a" stroke-width="1.7"/>
<line x1="883.3" y1="388.08" x2="890.6" y2="388.08" stroke="#1a1a1a" stroke-width="1.6"/>
<text transform="translate(877.5 395.28)" font-family="DejaVu Sans, Liberation Sans, sans-serif" font-size="18.7" text-anchor="end">−0.2</text>
<line x1="883.3" y1="303.69" x2="890.6" y2="303.69" stroke="#1a1a1a" stroke-width="1.6"/>
<text transform="translate(877.5 310.89)" font-family="DejaVu Sans, Liberation Sans, sans-serif" font-size="18.7" text-anchor="end">−0.1</text>
<line x1="883.3" y1="219.30" x2="890.6" y2="219.30" stroke="#1a1a1a" stroke-width="1.6"/>
<text transform="translate(877.5 226.50)" font-family="DejaVu Sans, Liberation Sans, sans-serif" font-size="18.7" text-anchor="end">0.0</text>
<line x1="883.3" y1="134.91" x2="890.6" y2="134.91" stroke="#1a1a1a" stroke-width="1.6"/>
<text transform="translate(877.5 142.11)" font-family="DejaVu Sans, Liberation Sans, sans-serif" font-size="18.7" text-anchor="end">0.1</text>
<line x1="883.3" y1="50.52" x2="890.6" y2="50.52" stroke="#1a1a1a" stroke-width="1.6"/>
<text transform="translate(877.5 57.72)" font-family="DejaVu Sans, Liberation Sans, sans-serif" font-size="18.7" text-anchor="end">0.2</text>
<line x1="896.99" y1="411.5" x2="896.99" y2="414.5" stroke="#000" stroke-width="1.0"/>
<line x1="905.42" y1="411.5" x2="905.42" y2="414.5" stroke="#000" stroke-width="1.0"/>
<line x1="912.85" y1="411.5" x2="912.85" y2="414.5" stroke="#000" stroke-width="1.0"/>
<line x1="919.50" y1="411.5" x2="919.50" y2="417.1" stroke="#000" stroke-width="1.6"/>
<line x1="963.24" y1="411.5" x2="963.24" y2="414.5" stroke="#000" stroke-width="1.0"/>
<line x1="988.83" y1="411.5" x2="988.83" y2="414.5" stroke="#000" stroke-width="1.0"/>
<line x1="1006.98" y1="411.5" x2="1006.98" y2="414.5" stroke="#000" stroke-width="1.0"/>
<line x1="1021.06" y1="411.5" x2="1021.06" y2="414.5" stroke="#000" stroke-width="1.0"/>
<line x1="1032.57" y1="411.5" x2="1032.57" y2="414.5" stroke="#000" stroke-width="1.0"/>
<line x1="1042.29" y1="411.5" x2="1042.29" y2="414.5" stroke="#000" stroke-width="1.0"/>
<line x1="1050.72" y1="411.5" x2="1050.72" y2="414.5" stroke="#000" stroke-width="1.0"/>
<line x1="1058.15" y1="411.5" x2="1058.15" y2="414.5" stroke="#000" stroke-width="1.0"/>
<line x1="1064.80" y1="411.5" x2="1064.80" y2="417.1" stroke="#000" stroke-width="1.6"/>
<line x1="1108.54" y1="411.5" x2="1108.54" y2="414.5" stroke="#000" stroke-width="1.0"/>
<line x1="1134.13" y1="411.5" x2="1134.13" y2="414.5" stroke="#000" stroke-width="1.0"/>
<line x1="1152.28" y1="411.5" x2="1152.28" y2="414.5" stroke="#000" stroke-width="1.0"/>
<line x1="1166.36" y1="411.5" x2="1166.36" y2="414.5" stroke="#000" stroke-width="1.0"/>
<line x1="1177.87" y1="411.5" x2="1177.87" y2="414.5" stroke="#000" stroke-width="1.0"/>
<line x1="1187.59" y1="411.5" x2="1187.59" y2="414.5" stroke="#000" stroke-width="1.0"/>
<line x1="1196.02" y1="411.5" x2="1196.02" y2="414.5" stroke="#000" stroke-width="1.0"/>
<line x1="1203.45" y1="411.5" x2="1203.45" y2="414.5" stroke="#000" stroke-width="1.0"/>
<line x1="1210.10" y1="411.5" x2="1210.10" y2="417.1" stroke="#000" stroke-width="1.6"/>
<line x1="1253.84" y1="411.5" x2="1253.84" y2="414.5" stroke="#000" stroke-width="1.0"/>
<line x1="1279.43" y1="411.5" x2="1279.43" y2="414.5" stroke="#000" stroke-width="1.0"/>
<line x1="1297.58" y1="411.5" x2="1297.58" y2="414.5" stroke="#000" stroke-width="1.0"/>
<line x1="1311.66" y1="411.5" x2="1311.66" y2="414.5" stroke="#000" stroke-width="1.0"/>
<line x1="1323.17" y1="411.5" x2="1323.17" y2="414.5" stroke="#000" stroke-width="1.0"/>
<line x1="1332.89" y1="411.5" x2="1332.89" y2="414.5" stroke="#000" stroke-width="1.0"/>
<line x1="1341.32" y1="411.5" x2="1341.32" y2="414.5" stroke="#000" stroke-width="1.0"/>
<line x1="1348.75" y1="411.5" x2="1348.75" y2="414.5" stroke="#000" stroke-width="1.0"/>
<line x1="1355.40" y1="411.5" x2="1355.40" y2="417.1" stroke="#000" stroke-width="1.6"/>
<line x1="1399.14" y1="411.5" x2="1399.14" y2="414.5" stroke="#000" stroke-width="1.0"/>
<line x1="1424.73" y1="411.5" x2="1424.73" y2="414.5" stroke="#000" stroke-width="1.0"/>
<line x1="1442.88" y1="411.5" x2="1442.88" y2="414.5" stroke="#000" stroke-width="1.0"/>
<line x1="1456.96" y1="411.5" x2="1456.96" y2="414.5" stroke="#000" stroke-width="1.0"/>
<line x1="1468.47" y1="411.5" x2="1468.47" y2="414.5" stroke="#000" stroke-width="1.0"/>
<line x1="1478.19" y1="411.5" x2="1478.19" y2="414.5" stroke="#000" stroke-width="1.0"/>
<line x1="1486.62" y1="411.5" x2="1486.62" y2="414.5" stroke="#000" stroke-width="1.0"/>
<line x1="1494.05" y1="411.5" x2="1494.05" y2="414.5" stroke="#000" stroke-width="1.0"/>
<line x1="1500.70" y1="411.5" x2="1500.70" y2="417.1" stroke="#000" stroke-width="1.6"/>
<text x="920.20" y="437.4" font-family="DejaVu Sans, Liberation Sans, sans-serif" font-size="18.5" text-anchor="middle">10<tspan font-size="12.9" dx="1.2" dy="-7.5">−3</tspan></text>
<text x="1065.50" y="437.4" font-family="DejaVu Sans, Liberation Sans, sans-serif" font-size="18.5" text-anchor="middle">10<tspan font-size="12.9" dx="1.2" dy="-7.5">−2</tspan></text>
<text x="1210.80" y="437.4" font-family="DejaVu Sans, Liberation Sans, sans-serif" font-size="18.5" text-anchor="middle">10<tspan font-size="12.9" dx="1.2" dy="-7.5">−1</tspan></text>
<text x="1356.10" y="437.4" font-family="DejaVu Sans, Liberation Sans, sans-serif" font-size="18.5" text-anchor="middle">10<tspan font-size="12.9" dx="1.2" dy="-7.5">0</tspan></text>
<text x="1501.40" y="437.4" font-family="DejaVu Sans, Liberation Sans, sans-serif" font-size="18.5" text-anchor="middle">10<tspan font-size="12.9" dx="1.2" dy="-7.5">1</tspan></text>
<text transform="translate(1210.1 461.2) scale(1.1 1)" font-family="DejaVu Sans, Liberation Sans, sans-serif" font-size="17.6" text-anchor="middle">lambda</text>
<text transform="translate(819.9 221.5) scale(1.08 1) rotate(-90)" font-family="DejaVu Sans, Liberation Sans, sans-serif" font-size="17.7" text-anchor="middle">Coefficients</text>
</svg></body></html>
